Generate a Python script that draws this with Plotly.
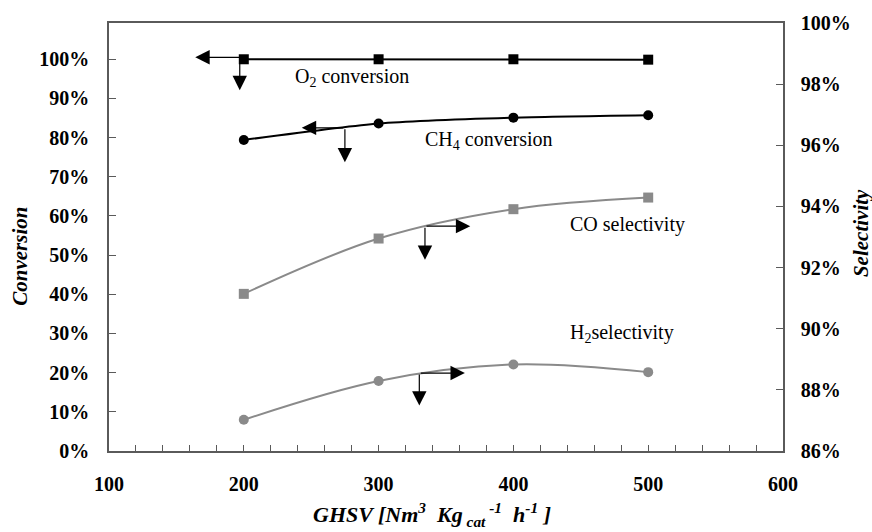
import plotly.graph_objects as go

ghsv = [200, 300, 400, 500]
o2_conv = [1.0, 1.0, 1.0, 0.999]
ch4_conv = [0.794, 0.836, 0.851, 0.857]
co_sel = [0.9114, 0.9295, 0.9391, 0.9429]
h2_sel = [0.8702, 0.8829, 0.8883, 0.8858]

x_ticks = [100, 200, 300, 400, 500, 600]
left_ticks = [0, 0.1, 0.2, 0.3, 0.4, 0.5, 0.6, 0.7, 0.8, 0.9, 1.0]
right_ticks = [0.86, 0.88, 0.90, 0.92, 0.94, 0.96, 0.98, 1.00]

SERIF = "Liberation Serif, Times New Roman, serif"
BLACK = "#000000"
GREY = "#8a8a8a"
AXIS = "#5a5a5a"

L, R, T, B = 109, 89, 17, 81
W, H = 872, 532

fig = go.Figure()
fig.add_trace(go.Scatter(x=ghsv, y=o2_conv, mode="lines+markers", name="O2 conversion",
                         line=dict(color=BLACK, width=2),
                         marker=dict(symbol="square", size=10, color=BLACK)))
fig.add_trace(go.Scatter(x=ghsv, y=ch4_conv, mode="lines+markers", name="CH4 conversion",
                         line=dict(color=BLACK, width=2, shape="spline", smoothing=0.6),
                         marker=dict(symbol="circle", size=10, color=BLACK)))
fig.add_trace(go.Scatter(x=ghsv, y=co_sel, mode="lines+markers", name="CO selectivity",
                         yaxis="y2",
                         line=dict(color=GREY, width=2, shape="spline", smoothing=1),
                         marker=dict(symbol="square", size=10, color=GREY)))
fig.add_trace(go.Scatter(x=ghsv, y=h2_sel, mode="lines+markers", name="H2 selectivity",
                         yaxis="y2",
                         line=dict(color=GREY, width=2, shape="spline", smoothing=1),
                         marker=dict(symbol="circle", size=10, color=GREY)))

tickfont = dict(family=SERIF, size=20, color="black", weight="bold")

fig.update_layout(
    width=W, height=H,
    margin=dict(l=L, r=R, t=T, b=B),
    paper_bgcolor="white", plot_bgcolor="white",
    showlegend=False,
    xaxis=dict(range=[100, 600], tickvals=x_ticks, ticks="inside", ticklen=6,
               tickcolor=AXIS, tickwidth=1.2,
               minor=dict(dtick=20, tick0=100, ticks="inside", ticklen=6, tickcolor=AXIS, tickwidth=1.2),
               showline=True, linecolor=AXIS, linewidth=1.5, mirror=True,
               showgrid=False, zeroline=False, tickfont=tickfont, ticklabelstandoff=14),
    yaxis=dict(range=[0, 1.0926], tickvals=left_ticks, tickformat=".0%", ticks="inside",
               ticklen=7, tickcolor=AXIS, tickwidth=1.2,
               showline=True, linecolor=AXIS, linewidth=1.5,
               showgrid=False, zeroline=False, tickfont=tickfont, ticklabelstandoff=14),
    yaxis2=dict(range=[0.86, 1.0], tickvals=right_ticks, tickformat=".0%", ticks="inside",
                ticklen=7, tickcolor=AXIS, tickwidth=1.2, overlaying="y", side="right",
                showline=True, linecolor=AXIS, linewidth=1.5,
                showgrid=False, zeroline=False, tickfont=tickfont, ticklabelstandoff=12),
)

label_font = dict(family=SERIF, size=20, color="black")
labels = [
    ("O<sub>2</sub> conversion", 236.5, 0.954),
    ("CH<sub>4</sub> conversion", 332.7, 0.793),
    ("CO selectivity", 440.5, 0.578),
    ("H<sub>2</sub>selectivity", 440.5, 0.301),
]
for txt, lx, ly in labels:
    fig.add_annotation(x=lx, y=ly, xref="x", yref="y", text=txt, showarrow=False,
                       xanchor="left", yanchor="middle", font=label_font)

# arrows: (tail_x, tail_y, head_x, head_y)
arrows = [
    (199, 1.005, 164, 1.005), (197, 1.005, 197, 0.921),
    (275, 0.825, 243, 0.825), (275, 0.825, 275, 0.737),
    (334.4, 0.574, 368, 0.574), (334.4, 0.574, 334.4, 0.488),
    (330.2, 0.199, 364, 0.199), (330.2, 0.199, 330.2, 0.116),
]
for tx, ty, hx, hy in arrows:
    fig.add_annotation(x=hx, y=hy, ax=tx, ay=ty, xref="x", yref="y", axref="x", ayref="y",
                       text="", showarrow=True, arrowhead=2, arrowsize=2.4, arrowwidth=1.2,
                       arrowcolor="black", standoff=0, startstandoff=0)


def px2paper(px, py):
    return (px - L) / (W - L - R), (H - B - py) / (H - T - B)


title_font = dict(family=SERIF, size=21, color="black", weight="bold", style="italic")
titles = [
    ("Conversion", 20, 254, -90, title_font),
    ("Selectivity", 861, 230, -90, title_font),
    ("GHSV [Nm<sup>3</sup>  Kg<sub> cat</sub><sup> -1</sup>  h<sup>-1</sup> ]", 432, 515, 0,
     dict(family=SERIF, size=22, color="black", weight="bold", style="italic")),
]
for txt, px, py, ang, f in titles:
    ax_, ay_ = px2paper(px, py)
    fig.add_annotation(x=ax_, y=ay_, xref="paper", yref="paper", text=txt, showarrow=False,
                       textangle=ang, xanchor="center", yanchor="middle", font=f)

fig.write_html("out.html")
